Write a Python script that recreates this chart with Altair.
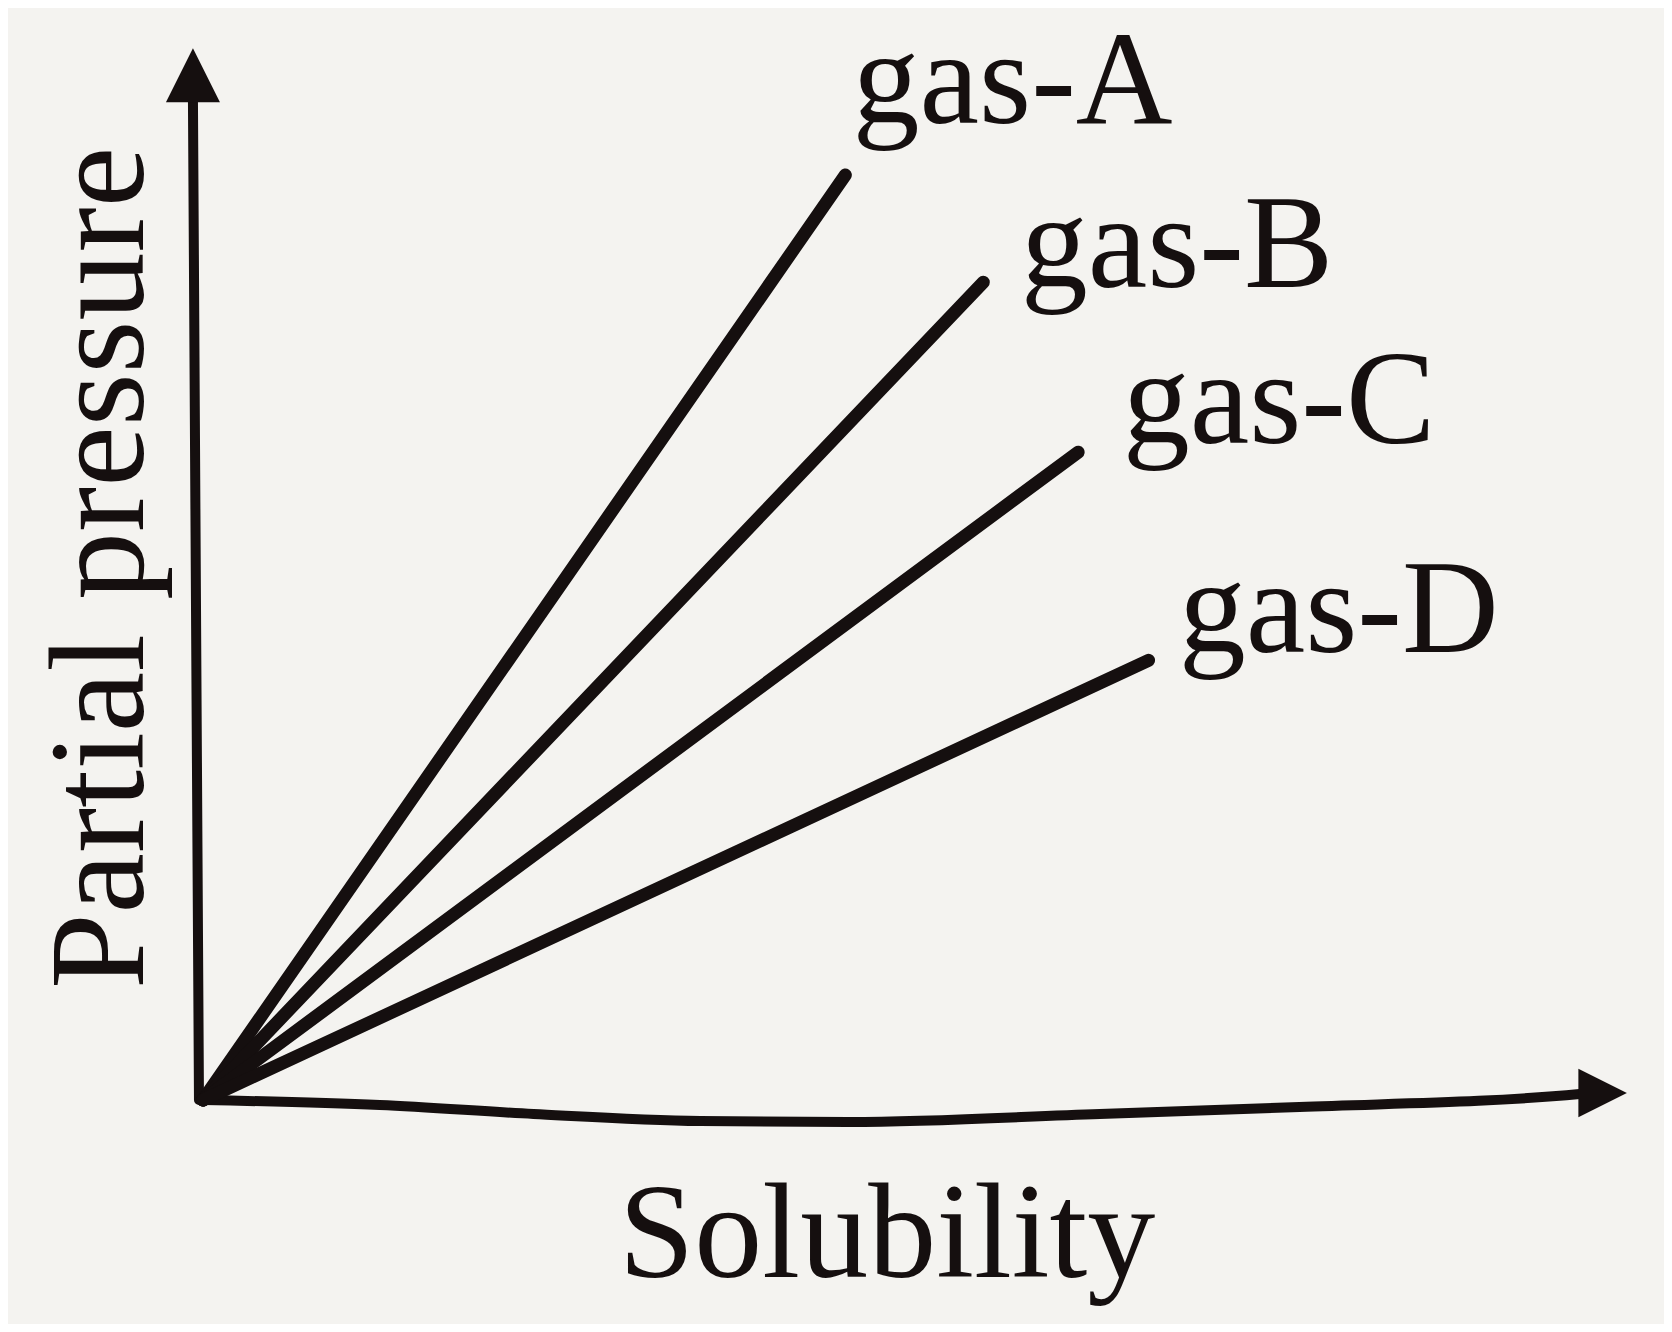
import altair as alt
import pandas as pd

# ---- data (arbitrary units 0..100 on each axis) ----
gases = ["gas-A", "gas-B", "gas-C", "gas-D"]
end_solubility = [44.7, 54.3, 60.9, 65.8]
end_pressure = [87.1, 77.0, 61.0, 41.4]
label_solubility = [45.2, 56.9, 64.0, 67.9]
label_pressure = [92.0, 76.6, 61.9, 42.2]

# hand-drawn axes (the x axis sags slightly in the original)
xaxis_sol = [0.0, 12.3, 23.0, 34.6, 45.0, 62.4, 76.3, 95.8, 96.5]
xaxis_pres = [0.0, -0.47, -1.32, -1.98, -2.07, -1.32, -0.66, 0.56, 0.66]
yaxis_sol = [-0.28, -0.70]
yaxis_pres = [0.0, 94.2]
y_arrow = (-0.70, 96.5)
x_arrow = (97.4, 0.66)

x_title = ("Solubility", 47.6, -16.7)
y_title = ("Partial pressure", -4.18, 50.1)

INK = "#150f0f"
BG = "#f4f3f0"
FONT = "Liberation Serif"

# ---- tables ----
rows = []
for g, xs_, ys_ in zip(gases, end_solubility, end_pressure):
    rows.append({"gas": g, "s": 0.0, "p": 0.0, "o": 0})
    rows.append({"gas": g, "s": xs_, "p": ys_, "o": 1})
lines_df = pd.DataFrame(rows)
labels_df = pd.DataFrame({"gas": gases, "s": label_solubility, "p": label_pressure})
xaxis_df = pd.DataFrame({"s": xaxis_sol, "p": xaxis_pres})
yaxis_df = pd.DataFrame({"s": yaxis_sol, "p": yaxis_pres, "o": [0, 1]})
yarrow_df = pd.DataFrame({"s": [y_arrow[0]], "p": [y_arrow[1]]})
xarrow_df = pd.DataFrame({"s": [x_arrow[0]], "p": [x_arrow[1]]})
xtitle_df = pd.DataFrame({"t": [x_title[0]], "s": [x_title[1]], "p": [x_title[2]]})
ytitle_df = pd.DataFrame({"t": [y_title[0]], "s": [y_title[1]], "p": [y_title[2]]})

xs = alt.Scale(domain=[0, 100], nice=False, zero=False)
ys = alt.Scale(domain=[0, 100], nice=False, zero=False)
X = alt.X("s:Q", scale=xs, axis=None)
Y = alt.Y("p:Q", scale=ys, axis=None)

gas_lines = alt.Chart(lines_df).mark_line(
    color=INK, strokeWidth=13, strokeCap="round"
).encode(x=X, y=Y, detail="gas:N", order="o:Q")

text_style = dict(font=FONT, baseline="alphabetic", color=INK)

gas_labels = alt.Chart(labels_df).mark_text(
    fontSize=134, align="left", **text_style
).encode(x=X, y=Y, text="gas:N")

x_axis = alt.Chart(xaxis_df).mark_line(
    color=INK, strokeWidth=10, strokeCap="round", interpolate="monotone"
).encode(x=X, y=Y)

y_axis = alt.Chart(yaxis_df).mark_line(
    color=INK, strokeWidth=10, strokeCap="round"
).encode(x=X, y=Y, order="o:Q")

y_head = alt.Chart(yarrow_df).mark_point(
    shape="M-1,1H1L0,-1Z", filled=True, size=2916, color=INK, opacity=1
).encode(x=X, y=Y)

x_head = alt.Chart(xarrow_df).mark_point(
    shape="M-1,-1L1,0L-1,1Z", filled=True, size=2350, color=INK, opacity=1
).encode(x=X, y=Y)

x_lab = alt.Chart(xtitle_df).mark_text(
    fontSize=136, align="center", **text_style
).encode(x=X, y=Y, text="t:N")

y_lab = alt.Chart(ytitle_df).mark_text(
    fontSize=136, align="center", angle=270, **text_style
).encode(x=X, y=Y, text="t:N")

chart = alt.layer(
    x_axis, y_axis, gas_lines, y_head, x_head, gas_labels, x_lab, y_lab
).properties(
    width=1437,
    height=1062,
    autosize=alt.AutoSizeParams(type="none"),
    padding={"left": 195, "top": 30, "right": 24, "bottom": 224},
    background=BG,
).configure_view(stroke=None)

chart.save("out.html", embed_options={"renderer": "svg", "actions": False})
